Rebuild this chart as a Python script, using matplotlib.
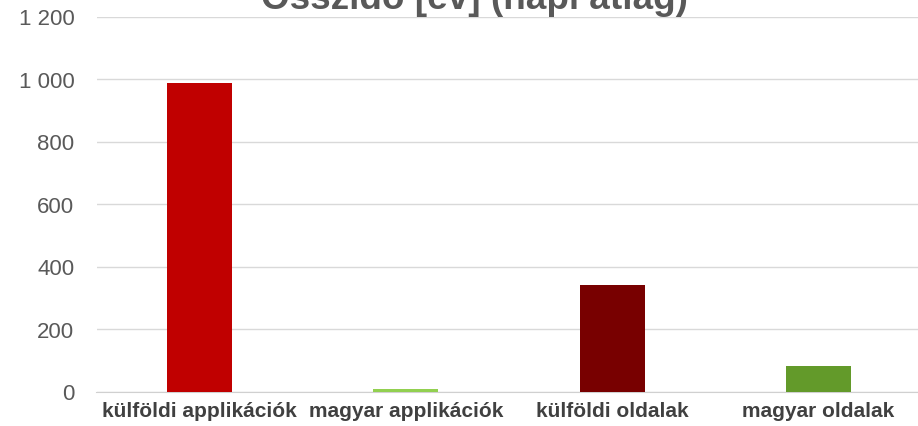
import matplotlib.pyplot as plt

plt.rcParams['font.family'] = ['Liberation Sans', 'DejaVu Sans']

categories = ['külföldi applikációk', 'magyar applikációk', 'külföldi oldalak', 'magyar oldalak']
values = [987, 9, 341, 82]
colors = ['#C00000', '#92D050', '#780000', '#639A2A']
yticks = [0, 200, 400, 600, 800, 1000, 1200]
title = 'Összidő [év] (napi átlag)'

fig = plt.figure(figsize=(9.18, 4.27), dpi=100)
ax = fig.add_axes([96.5 / 918, 1 - 392.5 / 427, 825 / 918, 375 / 427])

x = range(len(categories))
ax.bar(x, values, width=0.316, color=colors, zorder=3)

ax.set_xlim(-0.5, 3.5)
ax.set_ylim(0, 1200)
ax.set_yticks(yticks)
ax.set_yticklabels([f'{v:,}'.replace(',', ' ') for v in yticks])
ax.set_xticks(list(x))
ax.set_xticklabels(categories, fontweight='bold', color='#404040', fontsize=15)
ax.tick_params(axis='y', colors='#595959', labelsize=16, length=0, pad=16)
ax.tick_params(axis='x', length=0, pad=7)
ax.grid(axis='y', color='#D9D9D9', linewidth=1, zorder=0)
for s in ['top', 'right', 'left']:
    ax.spines[s].set_visible(False)
ax.spines['bottom'].set_color('#D0D0D0')

fig.text(474 / 918, 1 - 9 / 427, title, ha='center', va='baseline',
         fontsize=26.6, fontweight='bold', color='#595959')

fig.savefig('out.png', dpi=100)
